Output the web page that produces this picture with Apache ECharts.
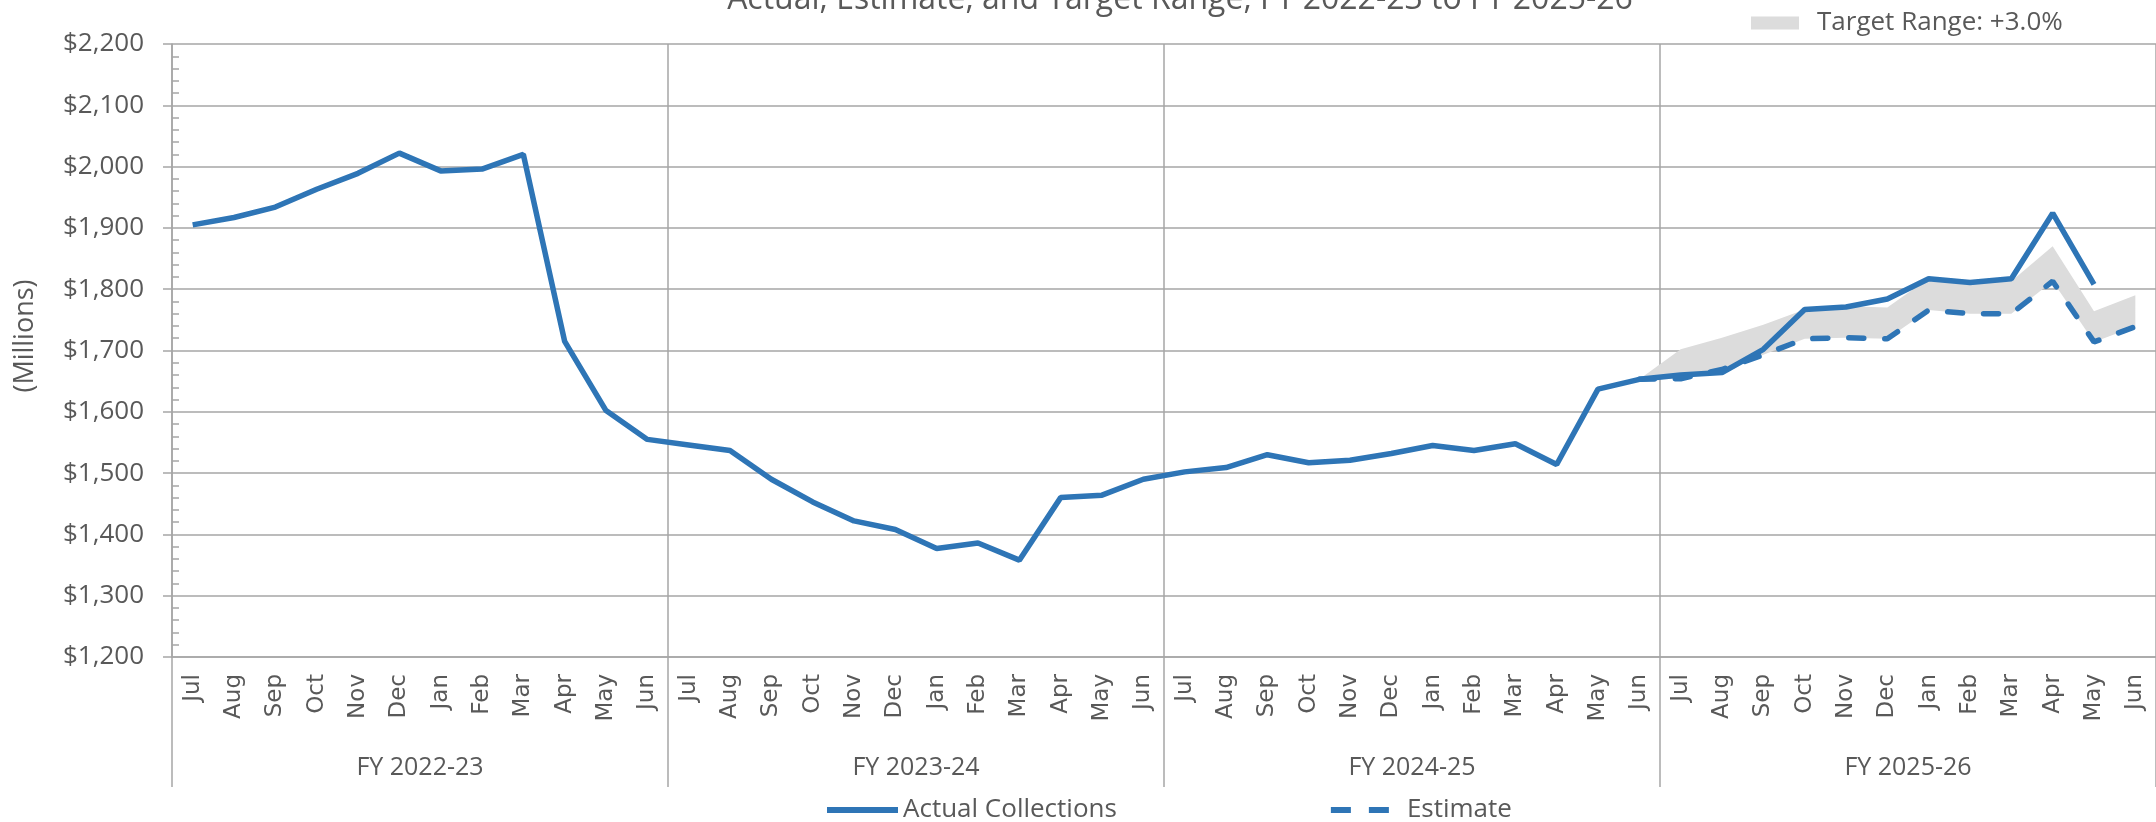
<!DOCTYPE html>
<html>
<head>
<meta charset="utf-8">
<title>Collections: Actual, Estimate, and Target Range</title>
<script src="https://cdn.jsdelivr.net/npm/echarts@6/dist/echarts.min.js"></script>
<style>
  html, body { margin: 0; padding: 0; background: #fff; }
  #chart { width: 2156px; height: 822px; }
</style>
</head>
<body>
<div id="chart"></div>
<script>
const monthNames = ['Jul', 'Aug', 'Sep', 'Oct', 'Nov', 'Dec', 'Jan', 'Feb', 'Mar', 'Apr', 'May', 'Jun']
const fiscalYears = ['FY 2022-23', 'FY 2023-24', 'FY 2024-25', 'FY 2025-26']

// $ millions
const actualFY2223 = [1905, 1917, 1934, 1963, 1989, 2022, 1993, 1996, 2020, 1715, 1602, 1555]
const actualFY2324 = [1546, 1537, 1490, 1453, 1422, 1408, 1377, 1386, 1358, 1460, 1464, 1490]
const actualFY2425 = [1502, 1509, 1530, 1517, 1521, 1532, 1545, 1537, 1548, 1514, 1637, 1653]
const actualFY2526 = [1660, 1664, 1702, 1767, 1771, 1784, 1817, 1811, 1817, 1924, 1808]

// estimate and band start from the last month of FY 2024-25
const startJun2025 = 1653
const estimateFY2526 = [1654, 1669, 1693, 1719, 1721, 1719, 1766, 1760, 1760, 1813, 1714, 1739]
const targetHighFY2526 = [1702, 1721, 1742, 1767, 1772, 1770, 1818, 1813, 1813, 1870, 1764, 1790]

const yMin = 1200
const yMax = 2200
const yStep = 100

const textColor = '#595959'
const gridColor = '#a6a6a6'
const blue = '#2e75b6'

var categories = []
fiscalYears.forEach(function () {
  monthNames.forEach(function (m) { categories.push(m) })
})

function blanks(n) {
  return Array(n).fill('-')
}

var actual = [].concat(actualFY2223, actualFY2324, actualFY2425, actualFY2526, ['-'])
var estimate = [].concat(blanks(35), [startJun2025], estimateFY2526)
var targetHigh = [].concat(blanks(35), [startJun2025], targetHighFY2526)
var bandWidth = estimate.map(function (v, i) {
  return v === '-' ? '-' : targetHigh[i] - v
})

var chart = echarts.init(document.getElementById('chart'))

var option = {
  animation: false,
  backgroundColor: '#fff',
  graphic: [
    {
      type: 'text',
      x: 1180,
      y: 0,
      style: {
        text: 'Actual, Estimate, and Target Range, FY 2022-23 to FY 2025-26',
        fontFamily: 'Open Sans',
        fontSize: 32,
        fill: textColor,
        textAlign: 'center',
        textVerticalAlign: 'middle'
      }
    },
    {
      type: 'text',
      x: 25,
      y: 336,
      rotation: Math.PI / 2,
      style: {
        text: '(Millions)',
        fontFamily: 'Open Sans',
        fontSize: 27,
        fill: textColor,
        textAlign: 'center',
        textVerticalAlign: 'middle'
      }
    }
  ],
  legend: [
    {
      data: [
        { name: 'Actual Collections', icon: 'path://M0,0h71v6h-71z' },
        { name: 'Estimate', icon: 'path://M0,0h20v6h-20z M38,0h20v6h-20z M70.99,2.99h0.01v0.01h-0.01z' }
      ],
      left: 822,
      top: 792,
      itemWidth: 71,
      itemHeight: 6,
      itemGap: 214,
      textStyle: { fontFamily: 'Open Sans', fontSize: 26, color: textColor }
    },
    {
      data: ['Target Range: +3.0%'],
      icon: 'rect',
      left: 1746,
      top: 5,
      itemWidth: 48,
      itemHeight: 13,
      textStyle: { fontFamily: 'Open Sans', fontSize: 26, color: textColor, padding: [0, 0, 0, 13] }
    }
  ],
  grid: {
    left: 172,
    right: 0,
    top: 44,
    bottom: 165,
    outerBoundsMode: 'none'
  },
  xAxis: [
    {
      type: 'category',
      data: categories,
      boundaryGap: true,
      axisLine: { show: true, lineStyle: { color: gridColor, width: 1.5 } },
      axisTick: { show: false },
      splitLine: { show: false },
      axisLabel: {
        interval: 0,
        rotate: 90,
        margin: 17,
        fontFamily: 'DejaVu Sans',
        fontSize: 23,
        color: textColor
      }
    },
    {
      type: 'category',
      data: fiscalYears,
      position: 'bottom',
      boundaryGap: true,
      axisLine: { show: false },
      axisTick: { show: true, interval: 0, length: 130, lineStyle: { color: gridColor, width: 1.5 } },
      splitLine: { show: true, interval: 0, lineStyle: { color: gridColor, width: 1.5 } },
      axisLabel: {
        interval: 0,
        margin: 98,
        fontFamily: 'Open Sans',
        fontSize: 25,
        color: textColor
      }
    }
  ],
  yAxis: [
    {
      type: 'value',
      min: yMin,
      max: yMax,
      interval: yStep,
      axisLine: { show: true, lineStyle: { color: gridColor, width: 1.5 } },
      axisTick: { show: true, length: 9, lineStyle: { color: gridColor, width: 1.5 } },
      splitLine: { show: true, lineStyle: { color: gridColor, width: 1.5 } },
      axisLabel: {
        margin: 28,
        fontFamily: 'Open Sans',
        fontSize: 26,
        color: textColor,
        formatter: function (value) {
          return '$' + value.toLocaleString('en-US')
        }
      }
    },
    {
      // second copy only carries the small inside ticks
      type: 'value',
      min: yMin,
      max: yMax,
      interval: yStep,
      position: 'left',
      offset: 0,
      axisLine: { show: false },
      axisTick: { show: true, inside: true, length: 0 },
      minorTick: { show: true, splitNumber: 5, length: 7, lineStyle: { color: gridColor, width: 1.5 } },
      splitLine: { show: false },
      minorSplitLine: { show: false },
      axisLabel: { show: false }
    }
  ],
  series: [
    {
      name: 'bandBase',
      type: 'line',
      stack: 'band',
      data: estimate,
      symbol: 'none',
      silent: true,
      lineStyle: { width: 0, opacity: 0 },
      z: 1
    },
    {
      name: 'Target Range: +3.0%',
      type: 'line',
      stack: 'band',
      data: bandWidth,
      symbol: 'none',
      silent: true,
      itemStyle: { color: '#dcdcdc' },
      lineStyle: { width: 0, opacity: 0 },
      areaStyle: { color: '#dcdcdc', opacity: 1 },
      z: 1
    },
    {
      name: 'Actual Collections',
      type: 'line',
      data: actual,
      symbol: 'none',
      itemStyle: { color: blue },
      lineStyle: { color: blue, width: 5.5 },
      z: 3
    },
    {
      name: 'Estimate',
      type: 'line',
      data: estimate,
      symbol: 'none',
      itemStyle: { color: blue },
      lineStyle: { color: blue, width: 5.5, type: [15, 21], cap: 'round' },
      z: 4
    }
  ]
}

option && chart.setOption(option)
</script>
</body>
</html>
